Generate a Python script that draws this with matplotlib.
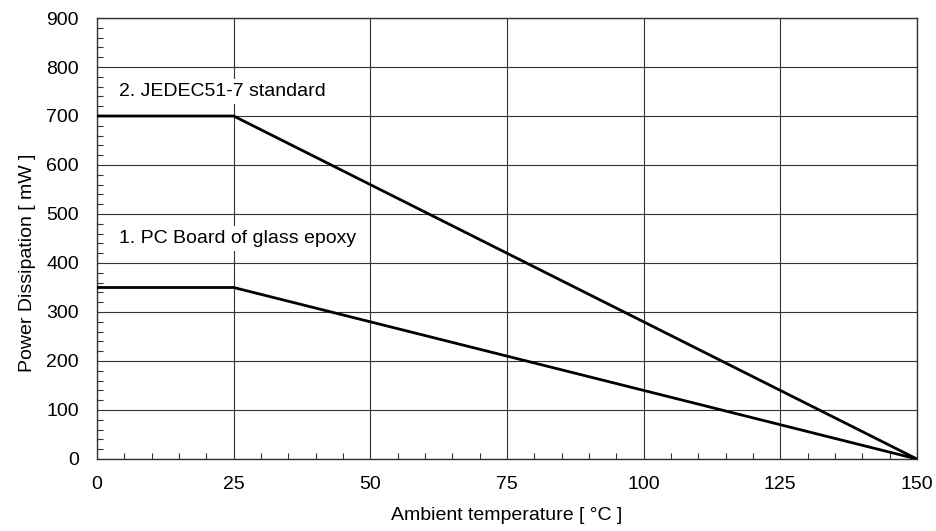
import matplotlib
matplotlib.use("Agg")
import matplotlib.pyplot as plt
from matplotlib.ticker import MultipleLocator

plt.rcParams["font.family"] = ["Liberation Sans", "DejaVu Sans"]

# derating curves: flat up to 25 degC, then linear down to zero at 150 degC
temperature = [0, 25, 150]
jedec_power = [700, 700, 0]
epoxy_power = [350, 350, 0]

x_ticks = [0, 25, 50, 75, 100, 125, 150]
y_ticks = [0, 100, 200, 300, 400, 500, 600, 700, 800, 900]

fig = plt.figure(figsize=(9.36, 5.31), dpi=100)
ax = fig.add_axes([0.1036, 0.1356, 0.876, 0.8305])

ax.plot(temperature, jedec_power, color="black", linewidth=2.0, solid_capstyle="butt", zorder=3)
ax.plot(temperature, epoxy_power, color="black", linewidth=2.0, solid_capstyle="butt", zorder=3)

ax.set_xlim(0, 150)
ax.set_ylim(0, 900)
ax.set_xticks(x_ticks)
ax.set_yticks(y_ticks)
ax.xaxis.set_minor_locator(MultipleLocator(5))
ax.yaxis.set_minor_locator(MultipleLocator(20))
ax.tick_params(which="both", direction="in", top=False, right=False, labelsize=14, colors="#333333", labelcolor="black")
ax.tick_params(which="major", length=0)
ax.tick_params(axis="x", which="major", pad=12)
ax.tick_params(axis="y", which="major", pad=13)
ax.tick_params(which="minor", length=4, width=0.8)
ax.grid(True, which="major", color="#333333", linewidth=0.8, zorder=1)
for s in ax.spines.values():
    s.set_color("#333333")
    s.set_linewidth(1.0)

ax.text(4, 750, "2. JEDEC51-7 standard", fontsize=14, va="center", ha="left",
        bbox=dict(facecolor="white", edgecolor="none", pad=3), zorder=2)
ax.text(4, 450, "1. PC Board of glass epoxy", fontsize=14, va="center", ha="left",
        bbox=dict(facecolor="white", edgecolor="none", pad=3), zorder=2)

ax.set_xlabel("Ambient temperature [ °C ]", fontsize=14)
ax.set_ylabel("Power Dissipation [ mW ]", fontsize=14)
ax.xaxis.set_label_coords(0.5, -0.108)
ax.yaxis.set_label_coords(-0.074, 0.444)

fig.savefig("out.png", dpi=100)
